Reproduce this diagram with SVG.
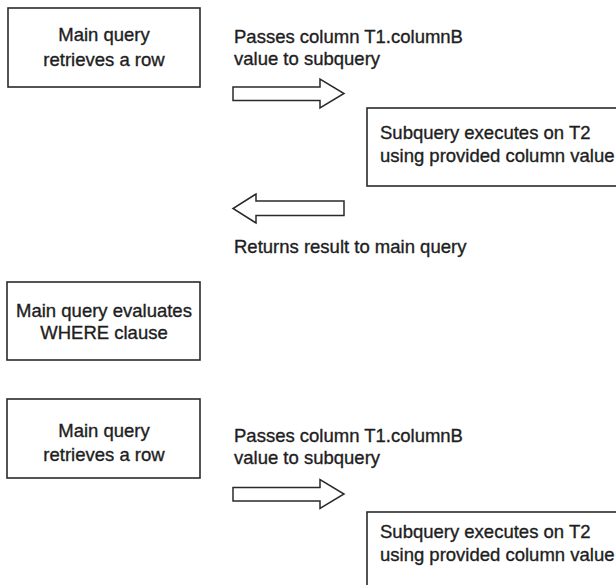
<svg xmlns="http://www.w3.org/2000/svg" width="616" height="585" viewBox="0 0 616 585">
<style>
.box{fill:#fff;stroke:#2a2a2a;stroke-width:1.6}
.arr{fill:#fff;stroke:#2a2a2a;stroke-width:1.5;stroke-linejoin:miter}
text{font-family:"Liberation Sans",Arial,sans-serif;font-size:18.5px;fill:#1e1e1e;stroke:#1e1e1e;stroke-width:0.35}
.c{text-anchor:middle}
</style>
<rect width="616" height="585" fill="#fff"/>
<g id="main-retrieves-1">
<rect class="box" x="8" y="8" width="192" height="79"/>
<text class="c" x="104" y="41">Main query</text>
<text class="c" x="104" y="66">retrieves a row</text>
</g>
<g id="subquery-1">
<rect class="box" x="367" y="108" width="270" height="78"/>
<text x="380" y="139">Subquery executes on T2</text>
<text x="380" y="162">using provided column value</text>
</g>
<g id="main-evaluates">
<rect class="box" x="7" y="282" width="193" height="78"/>
<text class="c" x="104" y="317">Main query evaluates</text>
<text class="c" x="104" y="339">WHERE clause</text>
</g>
<g id="main-retrieves-2">
<rect class="box" x="7" y="399" width="193" height="79"/>
<text class="c" x="104" y="437">Main query</text>
<text class="c" x="104" y="461">retrieves a row</text>
</g>
<g id="subquery-2">
<rect class="box" x="367" y="512" width="270" height="100"/>
<text x="380" y="538">Subquery executes on T2</text>
<text x="380" y="561">using provided column value</text>
</g>
<g id="connectors">
<polygon class="arr" points="233,87 320,87 320,79 344,93.5 320,108 320,100.5 233,100.5"/>
<text x="234" y="43">Passes column T1.columnB</text>
<text x="234" y="65">value to subquery</text>
<polygon class="arr" points="344,201 256,201 256,194 233,208.5 256,223 256,215.5 344,215.5"/>
<text x="234" y="253">Returns result to main query</text>
<polygon class="arr" points="233,487.5 320,487.5 320,479.5 344,494 320,508.5 320,501 233,501"/>
<text x="234" y="442">Passes column T1.columnB</text>
<text x="234" y="464">value to subquery</text>
</g>
</svg>
